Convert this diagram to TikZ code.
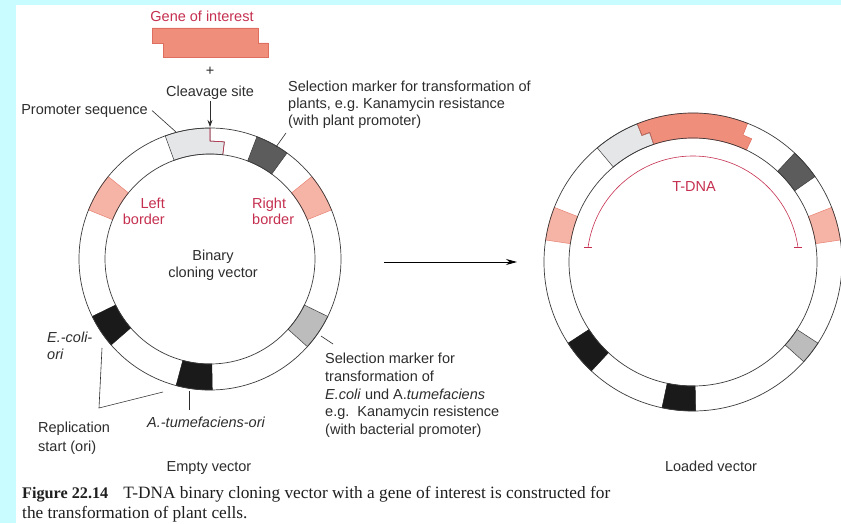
\documentclass[tikz,border=0pt]{standalone}
\usepackage{fontspec}
\setmainfont{Liberation Sans}
\newfontfamily\capfont{Liberation Serif}
\usetikzlibrary{arrows.meta,calc}
\definecolor{bgcyan}{RGB}{200,252,255}
\definecolor{salmon}{RGB}{240,142,124}
\definecolor{salmonedge}{RGB}{222,110,96}
\definecolor{pinkb}{RGB}{246,180,166}
\definecolor{pinkedge}{RGB}{232,130,116}
\definecolor{promgrey}{RGB}{228,230,232}
\definecolor{darkbox}{RGB}{92,92,92}
\definecolor{lightbox}{RGB}{188,188,188}
\definecolor{blackbox}{RGB}{26,26,26}
\definecolor{redtext}{RGB}{198,48,80}
\definecolor{labeltext}{RGB}{45,45,45}
\definecolor{ringline}{RGB}{60,60,60}
\newcommand{\ringseg}[6]{\path[#6] ($(#1)+(#2:#4pt)$) arc[start angle=#2, end angle=#3, radius=#4pt] -- ($(#1)+(#3:#5pt)$) arc[start angle=#3, end angle=#2, radius=#5pt] -- cycle;}
\tikzset{
  lbl/.style={font=\fontsize{14.5}{17}\selectfont\frenchspacing, text=labeltext, inner sep=0pt},
  redlbl/.style={lbl, text=redtext},
  capnode/.style={font=\capfont\fontsize{17.3}{20}\selectfont\frenchspacing, text=black!88, inner sep=0pt},
  pointer/.style={draw=labeltext, line width=0.6pt},
  ring/.style={draw=ringline, line width=0.7pt},
  darkseg/.style={fill=darkbox, draw=ringline, line width=0.5pt},
  lightseg/.style={fill=lightbox, draw=ringline, line width=0.5pt},
  blackseg/.style={fill=blackbox, draw=blackbox, line width=0.5pt},
  pinkseg/.style={fill=pinkb, draw=pinkedge, line width=0.5pt},
}
\begin{document}
\begin{tikzpicture}[x=1pt,y=1pt]
\useasboundingbox (0,0) rectangle (841,523);
\clip (0,0) rectangle (841,523);
\fill[bgcyan] (0,0) rectangle (841,523);
\fill[white] (16,0) rectangle (841,518);

\coordinate (CL) at (210,264);
\coordinate (CR) at (693,261);

% ---------- gene of interest ----------
\node[redlbl, anchor=base] (gene) at (202,501.8) {Gene of interest};
\path[fill=salmon, draw=salmonedge, line width=0.5pt] (152,495) -- (258,495) -- (258,480) -- (268,480) -- (268,466) -- (163,466) -- (163,480) -- (152,480) -- cycle;
\node[lbl, anchor=base] (plus) at (210,447) {+};
\node[lbl, anchor=base] (cleave) at (210,426.8) {Cleavage site};
\coordinate (cleavetip) at (210,396);
\draw[labeltext, line width=0.7pt, -{Stealth[length=7pt,width=5pt]}] (cleave.south) ++(0,-2) -- (cleavetip);

% ---------- left (empty) vector ----------
\path[fill=promgrey, draw=ringline, line width=0.5pt] ($(CL)+(110:131pt)$) arc[start angle=110,end angle=90,radius=131pt] -- ($(CL)+(90:118pt)$) -- ($(CL)+(83:118pt)$) -- ($(CL)+(83:105pt)$) arc[start angle=83,end angle=110,radius=105pt] -- cycle;
\draw[redtext, line width=0.6pt] ($(CL)+(90:131pt)$) -- ($(CL)+(90:118pt)$) -- ($(CL)+(83:118pt)$) -- ($(CL)+(83:105pt)$);
\ringseg{CL}{54}{69}{131}{105}{darkseg}
\ringseg{CL}{22}{39}{131}{105}{pinkseg}
\ringseg{CL}{141}{158}{131}{105}{pinkseg}
\ringseg{CL}{206}{221}{131}{105}{blackseg}
\ringseg{CL}{255}{271}{131}{105}{blackseg}
\ringseg{CL}{-42}{-26}{131}{105}{lightseg}
\draw[ring] (CL) circle[radius=131pt];
\draw[ring] (CL) circle[radius=105pt];

\node[redlbl, anchor=north east, align=right, font=\fontsize{14.5}{16}\selectfont] (lb) at (165,325.3) {Left\\border};
\node[redlbl, anchor=north west, align=left, font=\fontsize{14.5}{16}\selectfont] (rb) at (252,325.3) {Right\\border};
\node[lbl, anchor=north, align=center] (binary) at (213,273.3) {Binary\\cloning vector};

\node[lbl, anchor=base east] (prom) at (148,408) {Promoter sequence};
\coordinate (promtip) at (176,391);
\draw[pointer] (prom.east) ++(4,1) -- (promtip);

\node[lbl, anchor=north west, align=left] (plant) at (288,442.3) {Selection marker for transformation of\\plants, e.g. Kanamycin resistance\\(with plant promoter)};
\coordinate (planttip) at (276,376);
\draw[pointer] (planttip) -- (286,390);

\node[lbl, anchor=north west, align=left, font=\fontsize{14.5}{17.8}\selectfont\frenchspacing] (bact) at (325,170.3) {Selection marker for\\transformation of\\\textit{E.coli} und A.\textit{tumefaciens}\\e.g.\ \ Kanamycin resistence\\(with bacterial promoter)};
\coordinate (bacttip) at (321,187);
\draw[pointer] (bacttip) -- (333,179);

\node[lbl, anchor=north west, align=left, font=\fontsize{14.5}{17}\selectfont\itshape] (ecoli) at (47,191.3) {E.-coli-\\ori};
\node[lbl, anchor=north west, align=left, font=\fontsize{14.5}{19}\selectfont] (repl) at (38,101.3) {Replication\\start (ori)};
\coordinate (vtip) at (99,115);
\coordinate (ecolitip) at (102,175);
\coordinate (atumtip) at (163,131);
\draw[pointer] (ecolitip) -- (vtip) -- (atumtip);

\node[lbl, anchor=base west, font=\fontsize{14.5}{17}\selectfont\itshape] (atum) at (147,96) {A.-tumefaciens-ori};
\coordinate (atumbox) at (189,132);
\draw[pointer] (atumbox) -- (189,113);

\node[lbl, anchor=base] (empty) at (209,52) {Empty vector};

% ---------- arrow ----------
\coordinate (arrA) at (384,261);
\coordinate (arrB) at (517,261);
\draw[black, line width=0.8pt, -{Stealth[length=11pt,width=6pt]}] (arrA) -- (arrB);

% ---------- right (loaded) vector ----------
\path[fill=salmon, draw=salmonedge, line width=0.5pt] ($(CR)+(112:149pt)$) arc[start angle=112,end angle=68.5,radius=149pt] -- ($(CR)+(68.5:136.5pt)$) -- ($(CR)+(64.5:136.5pt)$) -- ($(CR)+(64.5:124pt)$) arc[start angle=64.5,end angle=108.5,radius=124pt] -- ($(CR)+(108.5:136.5pt)$) -- ($(CR)+(112:136.5pt)$) -- cycle;
\path[fill=promgrey, draw=ringline, line width=0.5pt] ($(CR)+(130:149pt)$) arc[start angle=130,end angle=112,radius=149pt] -- ($(CR)+(112:136.5pt)$) -- ($(CR)+(108.5:136.5pt)$) -- ($(CR)+(108.5:124pt)$) arc[start angle=108.5,end angle=130,radius=124pt] -- cycle;
\path[draw=salmonedge, line width=0.5pt] ($(CR)+(112:149pt)$) -- ($(CR)+(112:136.5pt)$) -- ($(CR)+(108.5:136.5pt)$) -- ($(CR)+(108.5:124pt)$);
\ringseg{CR}{35}{47}{149}{124}{darkseg}
\ringseg{CR}{8.5}{21.5}{149}{124}{pinkseg}
\ringseg{CR}{158.5}{171.5}{149}{124}{pinkseg}
\ringseg{CR}{213}{227}{149}{124}{blackseg}
\ringseg{CR}{258}{271}{149}{124}{blackseg}
\ringseg{CR}{-42}{-33}{149}{124}{lightseg}
\draw[ring] (CR) circle[radius=149pt];
\draw[ring] (CR) circle[radius=124pt];

\coordinate (tl) at ($(CR)+(172:106pt)$);
\coordinate (tr) at ($(CR)+(8:106pt)$);
\draw[redtext, line width=0.6pt] (tl) arc[start angle=172,end angle=8,radius=106pt];
\draw[redtext, line width=0.6pt] ($(tl)+(-4,0)$) -- ($(tl)+(4,0)$);
\draw[redtext, line width=0.6pt] ($(tr)+(-4,0)$) -- ($(tr)+(4,0)$);
\node[redlbl, anchor=base] (tdna) at (694,331) {T-DNA};

\node[lbl, anchor=base] (loaded) at (711,52) {Loaded vector};

% ---------- caption ----------
\node[capnode, anchor=north west, align=left] (cap) at (22,37) {{\fontsize{16.2}{20}\selectfont\textbf{Figure 22.14}}\hspace{15pt}T-DNA binary cloning vector with a gene of interest is constructed for\\the transformation of plant cells.};
\end{tikzpicture}
\end{document}
